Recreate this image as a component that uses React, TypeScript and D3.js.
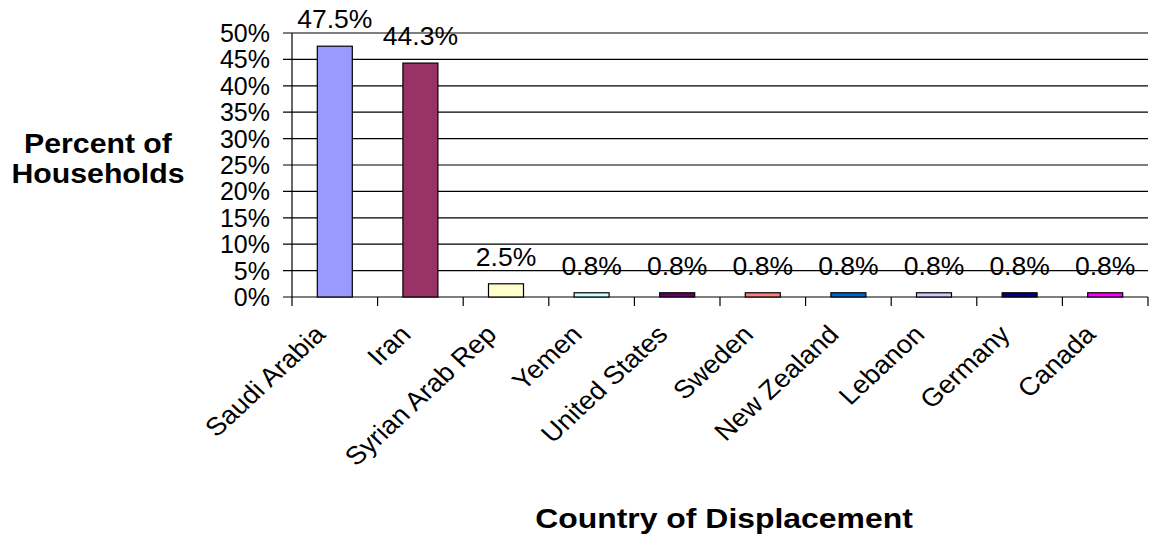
import React from "react";
import * as d3 from "d3";

const categories = [
  "Saudi Arabia",
  "Iran",
  "Syrian Arab Rep",
  "Yemen",
  "United States",
  "Sweden",
  "New Zealand",
  "Lebanon",
  "Germany",
  "Canada",
];
const values = [47.5, 44.3, 2.5, 0.8, 0.8, 0.8, 0.8, 0.8, 0.8, 0.8];
const colors = [
  "#9999FF",
  "#993366",
  "#FFFFCC",
  "#CCFFFF",
  "#660066",
  "#FF8080",
  "#0066CC",
  "#CCCCFF",
  "#000080",
  "#FF00FF",
];
const yTicks = [0, 5, 10, 15, 20, 25, 30, 35, 40, 45, 50];
const yTitleLines = ["Percent of", "Households"];
const xTitle = "Country of Displacement";

const W = 1149;
const H = 542;
const FONT = "'Liberation Sans', Arial, Helvetica, sans-serif";

export default function App() {
  const left = 292;
  const right = 1148;
  const top = 33;
  const bottom = 297;

  const x = d3.scaleBand<string>().domain(categories).range([left, right]).paddingInner(0).paddingOuter(0);
  const y = d3.scaleLinear().domain([0, 50]).range([bottom, top]);
  const barW = 35;
  const SX = 1.08;

  return (
    <svg
      width={W}
      height={H}
      viewBox={`0 0 ${W} ${H}`}
      style={{ position: "absolute", left: 0, top: 0, display: "block", background: "#fff" }}
      fontFamily={FONT}
    >
      <rect x={0} y={0} width={W} height={H} fill="#fff" />
      {yTicks.map((t) => (
        <g key={t}>
          <line x1={left - 9} x2={right} y1={y(t)} y2={y(t)} stroke="#000" strokeWidth={1.2} />
          <text x={270} y={y(t)} dy="0.36em" textAnchor="end" fontSize={25} fill="#000">
            {t}%
          </text>
        </g>
      ))}
      <line x1={left} x2={left} y1={top} y2={bottom} stroke="#000" strokeWidth={1.2} />
      {categories.map((c, i) => {
        const xx = left + x.step() * i;
        return <line key={c} x1={xx} x2={xx} y1={bottom} y2={bottom + 9} stroke="#000" strokeWidth={1.2} />;
      })}
      <line x1={right} x2={right} y1={bottom} y2={bottom + 9} stroke="#000" strokeWidth={1.2} />
      {categories.map((c, i) => {
        const cx = (x(c) as number) + x.bandwidth() / 2;
        return (
          <g key={c}>
            <rect
              x={cx - barW / 2}
              y={y(values[i])}
              width={barW}
              height={bottom - y(values[i])}
              fill={colors[i]}
              stroke="#000"
              strokeWidth={1.2}
            />
            <text
              transform={`translate(${cx},${y(values[i]) - 18}) scale(1.04,1)`}
              textAnchor="middle"
              fontSize={25.5}
              fill="#000"
            >
              {values[i].toFixed(1)}%
            </text>
            <text
              transform={`translate(${cx - 8},336) scale(${SX},1) rotate(-45)`}
              textAnchor="end"
              fontSize={25.5}
              fill="#000"
            >
              {c}
            </text>
          </g>
        );
      })}
      {yTitleLines.map((l, i) => (
        <text
          key={l}
          transform={`translate(98,${153 + i * 30}) scale(${SX},1)`}
          textAnchor="middle"
          fontSize={28}
          fontWeight="bold"
          fill="#000"
        >
          {l}
        </text>
      ))}
      <text
        transform={`translate(724,528) scale(1.12,1)`}
        textAnchor="middle"
        fontSize={28.5}
        fontWeight="bold"
        fill="#000"
      >
        {xTitle}
      </text>
    </svg>
  );
}
